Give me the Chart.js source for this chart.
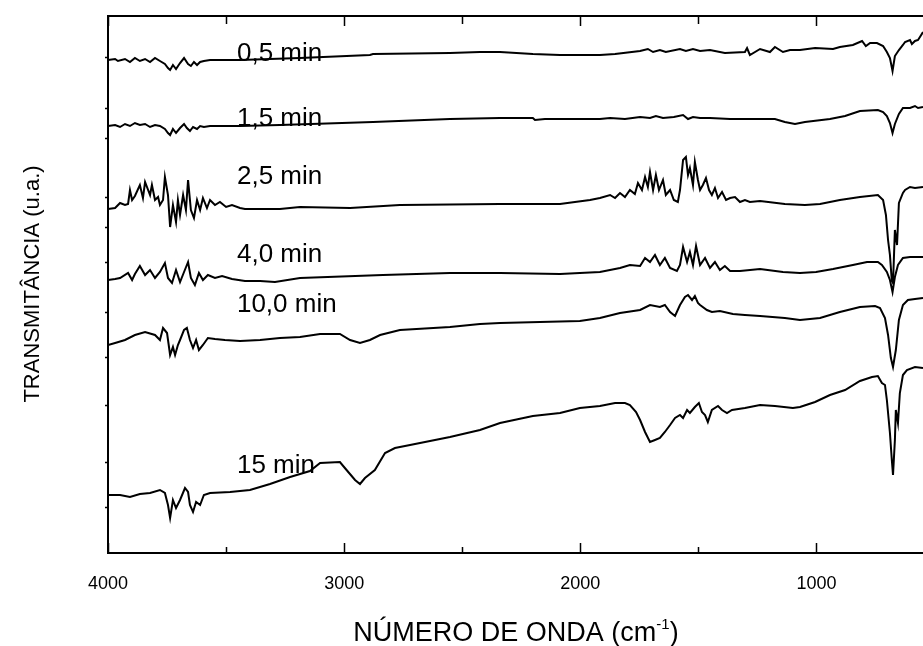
<!DOCTYPE html>
<html>
<head>
<meta charset="utf-8">
<script src="https://cdn.jsdelivr.net/npm/chart.js@4/dist/chart.umd.min.js"></script>
<style>
  body { margin: 0; background: #fff; }
  canvas { display: block; }
</style>
</head>
<body>
<canvas id="ftir" width="923" height="646"></canvas>
<script>
// FTIR spectra, wavenumber (cm-1) vs transmittance (arbitrary units, traces offset)
const wave05 = [4000,3970,3958,3928,3907,3886,3865,3843,3822,3801,3780,3759,3746,3737,3725,3712,3695,3678,3661,3649,3636,3623,3610,3594,3568,3517,3500,3441,3187,2891,2878,2552,2425,2340,2201,2086,1917,1853,1747,1714,1692,1663,1638,1578,1553,1523,1493,1451,1388,1303,1294,1282,1239,1197,1176,1142,1112,1070,1006,930,901,846,807,791,773,744,718,702,689,678,668,651,634,625,604,596,583,570,562,549];
const trans05 = [493,494,492,494,491,495,492,494,491,495,492,489,485,483,488,484,490,495,489,487,491,488,491,492,493,493,493,493,495,498,499,500,501,501,499,498,498,499,502,504,501,503,501,504,502,504,502,503,500,501,505,498,504,501,506,501,503,503,505,504,506,508,512,507,510,510,507,501,495,482,497,503,508,511,513,509,512,513,516,521];

const wave15 = [4000,3970,3949,3928,3907,3886,3865,3843,3822,3801,3780,3759,3746,3737,3725,3712,3695,3678,3666,3653,3640,3623,3610,3594,3568,3441,3272,2878,2552,2340,2201,2192,2150,1917,1874,1811,1747,1705,1680,1650,1604,1565,1544,1523,1493,1451,1366,1176,1134,1091,1049,943,879,816,740,718,702,689,678,668,651,634,604,583,570,549];
const trans15 = [427,428,426,429,427,430,428,429,426,428,427,424,420,418,424,420,425,429,425,422,426,424,427,426,427,427,428,431,434,435,435,433,434,434,435,434,436,435,437,435,436,438,434,436,435,435,434,434,431,429,431,434,437,442,443,441,437,430,420,429,439,445,445,447,445,446];

const wave25 = [4000,3970,3949,3928,3915,3907,3898,3886,3865,3852,3843,3822,3814,3801,3788,3780,3767,3759,3746,3737,3725,3712,3704,3695,3682,3670,3661,3649,3636,3623,3610,3598,3581,3568,3547,3526,3500,3475,3441,3420,3272,3187,2975,2764,2340,2086,2023,1959,1917,1874,1853,1832,1811,1790,1769,1756,1739,1726,1714,1705,1692,1680,1667,1650,1638,1620,1604,1587,1578,1565,1553,1544,1536,1523,1515,1502,1493,1481,1468,1455,1443,1430,1417,1400,1383,1366,1345,1324,1303,1282,1239,1134,1049,985,901,816,740,718,706,697,689,681,676,668,659,651,634,625,604,583,549];
const trans25 = [344,345,350,348,349,363,353,357,368,355,371,358,368,353,356,348,353,376,358,326,348,331,353,338,358,343,373,343,335,353,343,355,345,353,348,351,346,348,345,344,344,346,345,348,349,349,351,353,355,358,355,360,356,363,359,370,363,376,366,381,363,378,363,373,358,363,353,351,363,393,396,378,385,368,391,373,363,368,375,363,358,365,355,361,353,355,356,351,353,351,352,349,348,349,353,356,358,353,338,313,298,272,270,323,308,350,360,363,366,365,366];

const wave40 = [4000,3970,3949,3915,3898,3886,3865,3843,3822,3801,3780,3759,3746,3729,3712,3695,3678,3661,3649,3632,3615,3598,3577,3547,3517,3475,3420,3356,3293,3187,2836,2552,2340,2086,2002,1917,1832,1790,1747,1726,1705,1684,1663,1642,1620,1591,1578,1565,1548,1536,1523,1510,1493,1472,1451,1430,1409,1388,1366,1324,1239,1142,1070,1002,930,846,786,740,723,702,689,678,668,655,634,604,549];
const trans40 = [273,274,275,280,273,279,287,278,283,275,281,290,275,270,283,271,281,291,275,268,280,273,278,275,277,274,272,272,271,275,278,280,280,279,280,281,285,288,287,295,291,298,288,295,285,282,288,306,291,301,288,307,288,295,285,291,283,287,282,282,284,281,280,281,284,288,291,291,288,281,273,261,276,288,295,296,296];

const wave100 = [4000,3970,3928,3886,3843,3801,3780,3767,3750,3737,3725,3716,3704,3695,3678,3666,3653,3640,3627,3615,3598,3577,3547,3505,3441,3356,3272,3187,3102,3018,2975,2933,2891,2848,2764,2552,2425,2340,2002,1917,1832,1747,1705,1663,1642,1620,1599,1578,1557,1544,1527,1515,1502,1493,1464,1443,1409,1354,1303,1239,1134,1070,985,901,816,752,731,710,697,685,676,664,651,634,613,583,549];
const trans100 = [208,210,213,218,221,218,213,225,220,198,206,198,208,213,223,225,213,205,213,203,208,215,214,213,212,213,215,216,219,219,213,210,213,218,223,226,229,230,232,235,240,243,248,246,248,241,237,248,256,258,253,257,250,248,243,241,242,239,238,237,235,233,235,241,246,247,245,235,218,195,186,203,233,248,253,254,255];

const wave150 = [4000,3949,3907,3865,3822,3780,3759,3746,3737,3725,3712,3695,3674,3661,3653,3640,3627,3610,3594,3568,3483,3399,3314,3229,3145,3102,3018,2997,2954,2933,2912,2870,2827,2785,2721,2552,2425,2340,2201,2086,2002,1917,1853,1811,1790,1764,1747,1726,1705,1684,1663,1642,1620,1599,1578,1565,1548,1536,1515,1498,1485,1472,1460,1443,1417,1400,1379,1358,1303,1239,1176,1100,1070,1006,943,879,816,765,740,723,710,702,689,681,676,668,664,655,647,634,617,583,549];
const trans150 = [58,58,56,59,60,63,60,48,35,53,45,53,65,61,48,41,51,48,58,60,61,63,69,76,82,90,91,85,73,69,75,83,100,105,108,116,123,130,137,140,145,147,150,150,148,141,133,121,111,113,115,121,128,135,138,135,143,140,146,150,141,138,131,143,147,143,140,143,145,148,147,145,146,151,158,163,172,176,177,170,168,153,120,93,78,113,143,130,160,178,183,186,185];

// trace labels (drawn at wavenumber / level in data units)
const labelText = ['0,5 min', '1,5 min', '2,5 min', '4,0 min', '10,0 min', '15 min'];
const labelWave = [3454, 3454, 3454, 3454, 3454, 3454];
const labelLevel = [492, 427, 369, 291, 241, 80];

// axis ticks
const xMajorTicks = [4000, 3000, 2000, 1000];
const xMinorTicks = [3500, 2500, 1500];
const yTickLevels = [46, 91, 148, 196, 241, 291, 326, 356, 415, 445, 496];

const FONT = "'Liberation Sans', Arial, sans-serif";

function toPoints(w, t) {
    const n = Math.min(w.length, t.length);
    if (w.length !== t.length) console.warn('length mismatch', w.length, t.length);
    const pts = [];
    for (let i = 0; i < n; i++) pts.push({ x: w[i], y: t[i] });
    return pts;
}

const series = [
    ['0,5 min', wave05, trans05],
    ['1,5 min', wave15, trans15],
    ['2,5 min', wave25, trans25],
    ['4,0 min', wave40, trans40],
    ['10,0 min', wave100, trans100],
    ['15 min', wave150, trans150]
];

// frame, inward ticks, trace labels and axis titles
const framePlugin = {
    id: 'frame',
    afterDatasetsDraw(chart) {
        const { ctx, chartArea: a, scales: { x, y } } = chart;
        ctx.save();
        ctx.strokeStyle = '#000';
        ctx.lineWidth = 2;
        ctx.beginPath();
        ctx.moveTo(a.right + 2, a.top);
        ctx.lineTo(a.left, a.top);
        ctx.lineTo(a.left, a.bottom);
        ctx.lineTo(a.right + 2, a.bottom);
        ctx.stroke();

        ctx.lineWidth = 1.5;
        ctx.beginPath();
        xMajorTicks.forEach(v => {
            const px = Math.round(x.getPixelForValue(v)) + 0.5;
            ctx.moveTo(px, a.bottom); ctx.lineTo(px, a.bottom - 10);
            ctx.moveTo(px, a.top); ctx.lineTo(px, a.top + 10);
        });
        xMinorTicks.forEach(v => {
            const px = Math.round(x.getPixelForValue(v)) + 0.5;
            ctx.moveTo(px, a.bottom); ctx.lineTo(px, a.bottom - 6);
            ctx.moveTo(px, a.top); ctx.lineTo(px, a.top + 8);
        });
        yTickLevels.forEach(v => {
            const py = Math.round(y.getPixelForValue(v)) + 0.5;
            ctx.moveTo(a.left, py); ctx.lineTo(a.left - 3, py);
        });
        ctx.stroke();

        ctx.fillStyle = '#000';
        ctx.font = '26px ' + FONT;
        ctx.textAlign = 'left';
        ctx.textBaseline = 'alphabetic';
        labelText.forEach((txt, i) => {
            ctx.fillText(txt, x.getPixelForValue(labelWave[i]), y.getPixelForValue(labelLevel[i]));
        });

        // y title
        ctx.save();
        ctx.translate(33, 284);
        ctx.rotate(-Math.PI / 2);
        ctx.font = '22px ' + FONT;
        ctx.textAlign = 'center';
        ctx.textBaseline = 'middle';
        ctx.fillText('TRANSMITÂNCIA (u.a.)', 0, 0);
        ctx.restore();

        // x title with superscript
        const main = 'NÚMERO DE ONDA (cm';
        const sup = '-1';
        const close = ')';
        ctx.textAlign = 'left';
        ctx.font = '27px ' + FONT;
        const wMain = ctx.measureText(main).width;
        const wClose = ctx.measureText(close).width;
        ctx.font = '15px ' + FONT;
        const wSup = ctx.measureText(sup).width;
        const total = wMain + wSup + wClose;
        let tx = 516 - total / 2;
        const base = 641;
        ctx.font = '27px ' + FONT;
        ctx.fillText(main, tx, base);
        tx += wMain;
        ctx.font = '15px ' + FONT;
        ctx.fillText(sup, tx, base - 12);
        tx += wSup;
        ctx.font = '27px ' + FONT;
        ctx.fillText(close, tx, base);
        ctx.restore();
    }
};

new Chart(document.getElementById('ftir'), {
    type: 'line',
    data: {
        datasets: series.map(([name, w, t]) => ({
            label: name,
            data: toPoints(w, t),
            borderColor: '#000',
            borderWidth: 2,
            pointRadius: 0,
            tension: 0,
            fill: false
        }))
    },
    options: {
        responsive: false,
        animation: false,
        layout: { padding: { top: 16, right: 0, bottom: 0, left: 0 } },
        plugins: {
            legend: { display: false },
            tooltip: { enabled: false }
        },
        scales: {
            x: {
                type: 'linear',
                reverse: true,
                min: 549,
                max: 4000,
                grid: { display: false, drawTicks: false },
                border: { display: false },
                afterBuildTicks: scale => { scale.ticks = xMajorTicks.map(v => ({ value: v })); },
                afterFit: scale => { scale.height = 93; },
                ticks: {
                    color: '#000',
                    padding: 20,
                    maxRotation: 0,
                    autoSkip: false,
                    font: { family: FONT, size: 18 },
                    callback: v => String(v)
                }
            },
            y: {
                type: 'linear',
                min: 0,
                max: 537,
                grid: { display: false, drawTicks: false },
                border: { display: false },
                ticks: { display: false },
                afterFit: scale => { scale.width = 108; }
            }
        }
    },
    plugins: [framePlugin]
});
</script>
</body>
</html>
